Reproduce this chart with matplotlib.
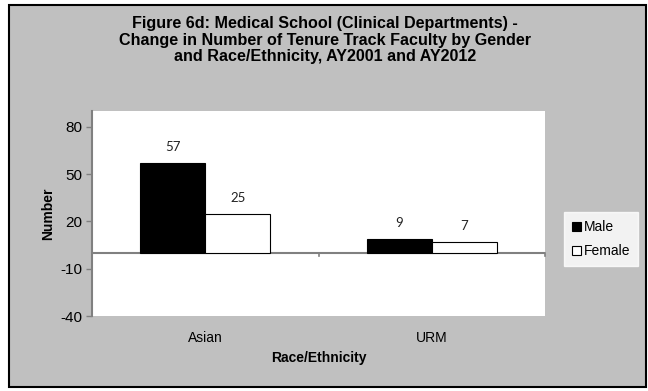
import matplotlib
matplotlib.use('Agg')
import matplotlib.pyplot as plt
from matplotlib.patches import Rectangle
import numpy as np

plt.rcParams['font.family'] = ['Liberation Sans', 'DejaVu Sans']
plt.rcParams['axes.unicode_minus'] = False

# change in faculty counts, AY2001 -> AY2012
groups = ['Asian', 'URM']
male = [57, 9]
female = [25, 7]
yticks = [-40, -10, 20, 50, 80]

W, H = 648, 391
fig = plt.figure(figsize=(W / 100, H / 100), dpi=100, facecolor='white')

# grey chart area with black frame
fig.patches.append(Rectangle((9 / W, 1 - 387 / H), (646 - 9) / W, (387 - 5) / H,
                             transform=fig.transFigure, facecolor='#c0c0c0',
                             edgecolor='black', linewidth=1.5, zorder=-5))

ax = fig.add_axes([92 / W, 1 - 316 / H, 453 / W, 205 / H])
ax.set_zorder(2)
ax.set_facecolor('white')

x = np.arange(len(groups))
bw = 0.287
b1 = ax.bar(x - bw / 2, male, bw, color='black', edgecolor='black', linewidth=0.8, label='Male', zorder=3)
b2 = ax.bar(x + bw / 2, female, bw, color='white', edgecolor='black', linewidth=0.8, label='Female', zorder=3)

for bars, vals in ((b1, male), (b2, female)):
    for r, v in zip(bars, vals):
        ax.annotate(str(v), (r.get_x() + r.get_width() / 2, v), xytext=(0, 7),
                    textcoords='offset points', ha='center', va='bottom',
                    fontsize=9.5, family=['Lato', 'DejaVu Sans'], color='#222222')

ax.set_xlim(-0.5, 1.5)
ax.set_ylim(-40, 90)
ax.set_yticks(yticks)
ax.set_xticks(x)
ax.set_xticklabels(groups)

# category axis sits at zero
ax.axhline(0, color='#808080', linewidth=1.5, zorder=2)
for xb in (0.5, 1.5):
    ax.plot([xb, xb], [0, -1.8], color='#808080', linewidth=1.2, clip_on=False)

for s in ('top', 'right', 'bottom'):
    ax.spines[s].set_visible(False)
ax.spines['left'].set_color('#808080')
ax.spines['left'].set_linewidth(1.5)
ax.tick_params(axis='y', colors='#808080', length=4, width=1, labelsize=11, labelcolor='black', pad=3)
ax.tick_params(axis='x', length=0, labelsize=10, pad=11)

ax.set_ylabel('Number', fontsize=10, fontweight='bold', labelpad=4)
ax.set_xlabel('Race/Ethnicity', fontsize=10, fontweight='bold', labelpad=4)

fig.text(0.5015, 1 - 40 / H,
         'Figure 6d: Medical School (Clinical Departments) -\n'
         'Change in Number of Tenure Track Faculty by Gender\n'
         'and Race/Ethnicity, AY2001 and AY2012',
         ha='center', va='center', fontsize=11.6, fontweight='bold',
         linespacing=1.15)

leg = fig.legend(handles=[b1, b2], loc='upper left',
                 bbox_to_anchor=(564 / W, 1 - 212 / H), fontsize=10,
                 frameon=True, fancybox=False, handlelength=0.6, handleheight=0.6,
                 handletextpad=0.2, borderpad=0.6, labelspacing=0.7, borderaxespad=0)
leg.get_frame().set_facecolor('white')
leg.get_frame().set_edgecolor('white')

fig.savefig('out.png', dpi=100, facecolor='white')
